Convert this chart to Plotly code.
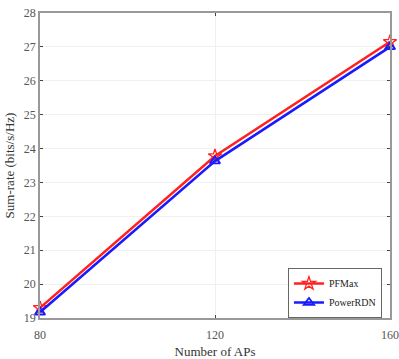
import plotly.graph_objects as go

aps = [80, 120, 160]
pfmax = [19.3, 23.78, 27.15]
powerrdn = [19.17, 23.63, 27.0]
y_ticks = [19, 20, 21, 22, 23, 24, 25, 26, 27, 28]
x_ticks = [80, 120, 160]

font = "Liberation Serif"
fig = go.Figure()
fig.add_trace(go.Scatter(x=aps, y=pfmax, name="PFMax", mode="lines+markers",
                         line=dict(color="#ff2020", width=2.5),
                         marker=dict(symbol="star-open", size=10, color="#ff2020", line=dict(width=1.3)),
                         cliponaxis=False))
fig.add_trace(go.Scatter(x=aps, y=powerrdn, name="PowerRDN", mode="lines+markers",
                         line=dict(color="#1a1aff", width=2.5),
                         marker=dict(symbol="triangle-up-open", size=9, color="#1a1aff", line=dict(width=1.8)),
                         cliponaxis=False))

fig.update_layout(
    width=399, height=359,
    margin=dict(l=40, r=9, t=13, b=41),
    paper_bgcolor="white", plot_bgcolor="white",
    font=dict(family=font, size=12, color="#333"),
    showlegend=True,
    legend=dict(x=0.977, y=0.0, xanchor="right", yanchor="bottom",
                bgcolor="white", bordercolor="#666", borderwidth=1,
                font=dict(family=font, size=10, color="#222"),
                tracegroupgap=0, itemwidth=30),
    xaxis=dict(range=[80, 160], tickvals=x_ticks, ticks="inside", ticklen=3,
               showgrid=True, gridcolor="#f0f0f0", mirror="ticks", showline=True,
               linecolor="#999", linewidth=1.5, zeroline=False, automargin=False,
               ticklabelstandoff=5,
               title=dict(text="Number of APs", font=dict(family=font, size=13, color="#333"), standoff=6),
               tickfont=dict(family=font, size=12, color="#555")),
    yaxis=dict(range=[19, 28], tickvals=y_ticks, ticks="inside", ticklen=3,
               showgrid=True, gridcolor="#f0f0f0", mirror="ticks", showline=True,
               linecolor="#999", linewidth=1.5, zeroline=False, automargin=False,
               title=dict(text="Sum-rate (bits/s/Hz)", font=dict(family=font, size=13, color="#333"), standoff=6),
               tickfont=dict(family=font, size=12, color="#555")),
)
fig.write_html("out.html", config={"displayModeBar": False},
               post_script="document.body.style.margin='0';")
